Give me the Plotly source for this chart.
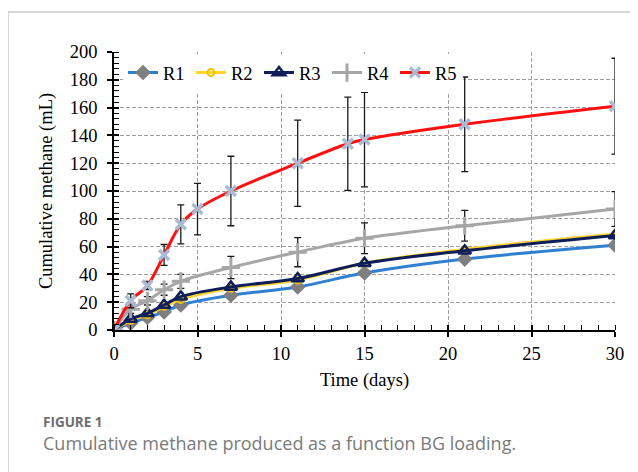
import plotly.graph_objects as go

days = [0, 1, 2, 3, 4, 7, 11, 15, 21, 30]
r1 = [0, 5, 9, 13, 18, 25, 31, 41, 51, 61]
r2 = [0, 7, 11, 17, 22, 30, 36, 48, 58, 69]
r3 = [0, 8, 12, 18, 24, 31, 37, 48, 57, 68]
r4 = [0, 15, 21, 29, 35, 45, 56, 66, 75, 87]
r4_err = [0, 3, 3, 4, 5, 8, 10.5, 11, 11, 12.5]
days5 = [0, 1, 2, 3, 4, 5, 7, 11, 14, 15, 21, 30]
r5 = [0, 21, 32, 54, 76, 87, 100, 120, 134, 137, 148, 161]
r5_err = [0, 5, 3, 7.5, 14, 18.5, 25, 31, 33.5, 34, 34, 34.5]

SERIF = "Liberation Serif, Times New Roman, serif"
OFF = 8  # page body margin
W, H = 630, 464
L, R, T, B = 106, 23, 44, 142
PW, PH = W - L - R, H - T - B

def px(x):
    return (x - OFF - L) / PW

def py(y):
    return (H - B - (y - OFF)) / PH

fig = go.Figure()
line_w = 3
eb = dict(type="data", color="#1a1a1a", thickness=1.3, width=3.5)

fig.add_trace(go.Scatter(x=days, y=r1, name="R1", mode="lines+markers",
                         line=dict(color="#2F80D0", width=line_w, shape="spline"),
                         marker=dict(symbol="diamond", size=12, color="#7F7F7F")))
fig.add_trace(go.Scatter(x=days, y=r2, name="R2", mode="lines+markers",
                         line=dict(color="#FFD52E", width=line_w, shape="spline"),
                         marker=dict(symbol="circle-open", size=7, color="#F5C400",
                                     line=dict(width=2))))
fig.add_trace(go.Scatter(x=days, y=r3, name="R3", mode="lines+markers",
                         line=dict(color="#0E1E5B", width=line_w, shape="spline"),
                         marker=dict(symbol="triangle-up-open", size=11, color="#0E1E5B",
                                     line=dict(width=2.5))))
fig.add_trace(go.Scatter(x=days, y=r4, name="R4", mode="lines+markers",
                         line=dict(color="#A6A6A6", width=line_w, shape="spline"),
                         marker=dict(symbol="cross-thin", size=13, color="#A6A6A6",
                                     line=dict(width=3, color="#A6A6A6")),
                         error_y=dict(array=r4_err, **eb)))
fig.add_trace(go.Scatter(x=days5, y=r5, name="R5", mode="lines+markers",
                         line=dict(color="#FF1010", width=line_w, shape="spline"),
                         marker=dict(symbol="x-thin", size=10, color="#A9BAD2",
                                     line=dict(width=3.5, color="#A9BAD2")),
                         error_y=dict(array=r5_err, **eb)))

# overlay axes for the inside part of the major ticks
fig.add_trace(go.Scatter(x=[0], y=[0], xaxis="x2", yaxis="y2", mode="markers",
                         marker=dict(opacity=0), showlegend=False, hoverinfo="skip"))

axis_font = dict(family=SERIF, size=18.5, color="black")
grid = dict(showgrid=True, gridcolor="#A0A0A0", gridwidth=1, griddash="4px,2px")

fig.update_layout(
    width=W, height=H,
    margin=dict(l=L, r=R, t=T, b=B, autoexpand=False),
    paper_bgcolor="white", plot_bgcolor="white",
    showlegend=True,
    legend=dict(orientation="h", x=px(123), y=py(54), xanchor="left", yanchor="top",
                bgcolor="white", font=dict(family=SERIF, size=18.5, color="black"),
                entrywidth=23, entrywidthmode="pixels",
                tracegroupgap=0, borderwidth=0),
    xaxis=dict(range=[0, 30], dtick=5, tick0=0, **grid, zeroline=False,
               showline=True, linecolor="black", linewidth=1.5,
               ticks="outside", ticklen=5, tickwidth=1.5, tickcolor="black",
               minor=dict(dtick=1, ticks="inside", ticklen=5, tickwidth=1.2,
                          tickcolor="black", showgrid=False),
               tickfont=axis_font, ticklabelstandoff=1,
               title=dict(text="Time (days)", font=axis_font, standoff=10)),
    yaxis=dict(range=[0, 200], dtick=20, tick0=0, **grid, zeroline=False,
               showline=True, linecolor="black", linewidth=1.5,
               ticks="outside", ticklen=5, tickwidth=1.5, tickcolor="black",
               minor=dict(dtick=4, ticks="inside", ticklen=5, tickwidth=1.2,
                          tickcolor="black", showgrid=False),
               tickfont=axis_font, ticklabelstandoff=6,
               title=dict(text="Cumulative methane (mL)", font=axis_font, standoff=12)),
    xaxis2=dict(range=[0, 30], dtick=5, tick0=0, overlaying="x", showgrid=False,
                zeroline=False, showticklabels=False, ticks="inside", ticklen=5,
                tickwidth=1.5, tickcolor="black", anchor="y2", side="bottom"),
    yaxis2=dict(range=[0, 200], dtick=20, tick0=0, overlaying="y", showgrid=False,
                zeroline=False, showticklabels=False, ticks="inside", ticklen=5,
                tickwidth=1.5, tickcolor="black", anchor="x2", side="left"),
)

# outer frame lines (top and left)
frame = dict(color="#C8C8C8", width=1.5)
fig.add_shape(type="line", xref="paper", yref="paper", x0=px(8), x1=px(650),
              y0=py(12), y1=py(12), line=frame)
fig.add_shape(type="line", xref="paper", yref="paper", x0=px(8), x1=px(8),
              y0=py(12), y1=py(480), line=frame)

cap_font = "Open Sans, Noto Sans, sans-serif"
fig.add_annotation(text="<b>FIGURE 1</b>", xref="paper", yref="paper",
                   x=px(41), y=py(422), xanchor="left", yanchor="middle",
                   showarrow=False, font=dict(family=cap_font, size=13.5, color="#6E6E6E"))
fig.add_annotation(text="Cumulative methane produced as a function BG loading.",
                   xref="paper", yref="paper", x=px(41), y=py(443),
                   xanchor="left", yanchor="middle", showarrow=False,
                   font=dict(family=cap_font, size=18, color="#7A7A7A"))

fig.write_html("out.html")
